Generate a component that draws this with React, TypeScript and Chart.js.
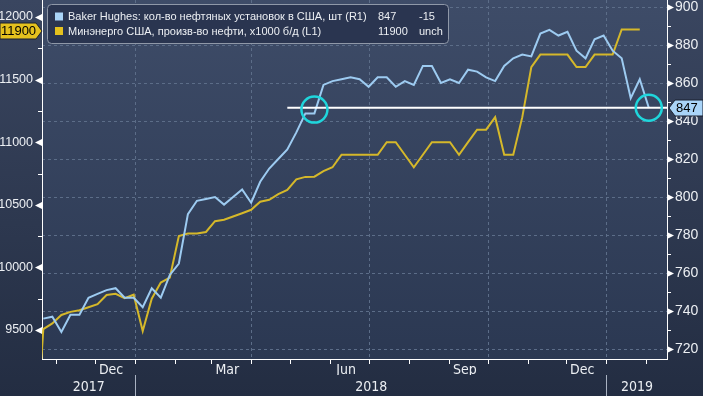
import React, { useEffect, useRef } from 'react';
import { Chart, registerables } from 'chart.js';

Chart.register(...registerables);

// ---------------- data ----------------
const weekStart = '2017-10-20'; // first weekly observation shown (Friday)
// Baker Hughes: US oil rigs, weekly (right axis)
const oilRigs = [
  736, 737, 729, 738, 738, 747, 749, 751, 752, 747,
  747, 742, 752, 747, 759, 765, 791, 798, 799, 800,
  796, 800, 804, 797, 808, 815, 820, 825, 834, 844,
  844, 859, 861, 862, 863, 862, 858, 863, 863, 858,
  861, 859, 869, 869, 860, 862, 860, 867, 866, 863,
  861, 869, 873, 875, 874, 886, 888, 885, 887, 877,
  873, 883, 885, 877, 873, 852, 862, 847,
];
// EIA (Минэнерго США): US crude output, x1000 b/d, weekly (left axis)
const oilOutputPrevWeek = 8402; // week before the first one, just outside the frame
const oilOutput = [
  9507, 9553, 9620, 9645, 9658, 9682, 9707, 9780, 9789, 9754,
  9782, 9492, 9750, 9879, 9919, 10251, 10271, 10271, 10283, 10369,
  10381, 10407, 10433, 10460, 10525, 10540, 10586, 10619, 10703, 10723,
  10725, 10769, 10800, 10900, 10900, 10900, 10900, 10900, 11000, 11000,
  10900, 10800, 10900, 11000, 11000, 11000, 10900, 11000, 11100, 11100,
  11200, 10900, 10900, 11200, 11600, 11700, 11700, 11700, 11700, 11600,
  11600, 11700, 11700, 11700, 11900, 11900, 11900,
];
const rigTickLabels = [720, 740, 760, 780, 800, 820, 840, 860, 880, 900];
const rigMinorTicks = [730, 750, 770, 790, 810, 830, 850, 870, 890];
const oilTickLabels = [9500, 10000, 10500, 11000, 11500, 12000];
const oilMinorTicks = [9750, 10250, 10750, 11250, 11750];
const monthLabelMonths = ['2017-12', '2018-03', '2018-06', '2018-09', '2018-12'];
const monthLabels = ['Dec', 'Mar', 'Jun', 'Sep', 'Dec'];
const yearStarts = ['2018-01-01', '2019-01-01'];
const yearLabels = ['2017', '2018', '2019'];
const refLineFromWeek = 27; // horizontal marker at the latest rig count
const highlightWeeks = [30, 67];
const highlightLevels = [846, 847];
const rigSeriesName = 'Baker Hughes: кол-во нефтяных установок в США, шт (R1)';
const oilSeriesName = 'Минэнерго США, произв-во нефти, x1000 б/д (L1)';

// ---------------- layout / style ----------------
const W = 703;
const H = 396;
const ORIGIN = Date.parse('2017-10-20');
const DAY = 86400000;
const dayOf = (s: string) => (Date.parse(s) - ORIGIN) / DAY;
const PLOT_SHIFT = 1.5;
const weekX = (i: number) => dayOf(weekStart) + 7 * i + PLOT_SHIFT;
const X_MIN = 0.49;
const X_MAX = 484.6;
const RIG_MIN = 714.74;
const RIG_MAX = 903.69;
const OIL_MIN = 9268.4;
const OIL_MAX = 12135.8;

const FONT = "'Liberation Sans', Arial, sans-serif";
const NARROW = "'Liberation Sans Narrow', 'Arial Narrow', 'DejaVu Sans Condensed', sans-serif";
const COL = {
  rig: '#9dcbf1',
  oil: '#d5b82a',
  rigTag: '#a9d4f8',
  oilTag: '#e4c11e',
  grid: '#5c6d88',
  text: '#eceff3',
  circle: '#1fd6dc',
};

type XT = { value: number; label: string; kind: string };

function buildMonthTicks(): XT[] {
  const out: XT[] = [];
  let y = 2017;
  let m = 10;
  for (;;) {
    const d = (Date.UTC(y, m, 1) - ORIGIN) / DAY;
    if (d > X_MAX) break;
    if (d >= X_MIN) out.push({ value: d, label: '', kind: m % 3 === 0 ? 'q' : 'm' });
    m++;
    if (m === 12) {
      m = 0;
      y++;
    }
  }
  monthLabelMonths.forEach((ym, i) => out.push({ value: dayOf(ym + '-13'), label: monthLabels[i], kind: 'l' }));
  return out.sort((a, b) => a.value - b.value);
}

function buildYearTicks(): XT[] {
  const seps = yearStarts.map(dayOf);
  const bounds = [X_MIN, ...seps, X_MAX];
  const out: XT[] = seps.map((v) => ({ value: v, label: '', kind: 's' }));
  yearLabels.forEach((lab, i) => out.push({ value: (bounds[i] + bounds[i + 1]) / 2, label: lab, kind: 'l' }));
  return out.sort((a, b) => a.value - b.value);
}

export default function App() {
  const ref = useRef<HTMLCanvasElement>(null);

  useEffect(() => {
    document.body.style.margin = '0';
    const canvas = ref.current;
    if (!canvas) return;

    const monthTicks = buildMonthTicks();
    const yearTicks = buildYearTicks();

    const rigData = oilRigs.map((v, i) => ({ x: weekX(i), y: v }));
    const oilData = [{ x: weekX(-1), y: oilOutputPrevWeek }, ...oilOutput.map((v, i) => ({ x: weekX(i), y: v }))];
    const lastRig = oilRigs[oilRigs.length - 1];
    const prevRig = oilRigs[oilRigs.length - 2];
    const lastOil = oilOutput[oilOutput.length - 1];
    const prevOil = oilOutput[oilOutput.length - 2];
    const refLine = [
      { x: weekX(refLineFromWeek), y: lastRig },
      { x: X_MAX, y: lastRig },
    ];
    const circles = highlightWeeks.map((w, i) => ({ x: weekX(w), y: highlightLevels[i] }));

    const fmtChange = (d: number) => (d === 0 ? 'unch' : d > 0 ? '+' + d : String(d));

    const decor = {
      id: 'decor',
      beforeDraw(chart: any) {
        const { ctx, chartArea: a } = chart;
        ctx.save();
        let g = ctx.createLinearGradient(0, 0, 0, H);
        g.addColorStop(0, '#3a4660');
        g.addColorStop(1, '#232d42');
        ctx.fillStyle = g;
        ctx.fillRect(0, 0, W, H);
        g = ctx.createLinearGradient(0, a.top, 0, a.bottom);
        g.addColorStop(0, '#3e4c68');
        g.addColorStop(1, '#2b3852');
        ctx.fillStyle = g;
        ctx.fillRect(a.left, a.top, a.right - a.left, a.bottom - a.top);
        ctx.restore();
      },
      afterDraw(chart: any) {
        const { ctx, chartArea: a } = chart;
        const yL = chart.scales.yL;
        const yR = chart.scales.yR;
        ctx.save();
        ctx.fillStyle = '#ffffff';
        ctx.strokeStyle = '#ffffff';
        ctx.lineWidth = 1;
        // axis markers
        yL.ticks.forEach((t: any) => {
          const y = Math.round(yL.getPixelForValue(t.value)) + 0.5;
          if (oilTickLabels.includes(t.value)) {
            ctx.beginPath();
            ctx.moveTo(a.left, y - 3.5);
            ctx.lineTo(a.left, y + 3.5);
            ctx.lineTo(a.left - 7, y);
            ctx.closePath();
            ctx.fill();
          } else {
            ctx.beginPath();
            ctx.moveTo(a.left - 4, y);
            ctx.lineTo(a.left, y);
            ctx.stroke();
          }
        });
        yR.ticks.forEach((t: any) => {
          const y = Math.round(yR.getPixelForValue(t.value)) + 0.5;
          if (rigTickLabels.includes(t.value)) {
            ctx.beginPath();
            ctx.moveTo(a.right, y - 3.5);
            ctx.lineTo(a.right, y + 3.5);
            ctx.lineTo(a.right + 7, y);
            ctx.closePath();
            ctx.fill();
          } else {
            ctx.beginPath();
            ctx.moveTo(a.right, y);
            ctx.lineTo(a.right + 4, y);
            ctx.stroke();
          }
        });

        // last value tags
        ctx.font = `13px ${FONT}`;
        ctx.textBaseline = 'middle';
        const yo = Math.round(yL.getPixelForValue(lastOil)) + 1;
        ctx.beginPath();
        ctx.moveTo(0, yo - 8);
        ctx.lineTo(36, yo - 8);
        ctx.lineTo(42, yo);
        ctx.lineTo(36, yo + 8);
        ctx.lineTo(0, yo + 8);
        ctx.closePath();
        ctx.fillStyle = COL.oilTag;
        ctx.fill();
        ctx.strokeStyle = '#1b2130';
        ctx.stroke();
        ctx.fillStyle = '#000000';
        ctx.textAlign = 'center';
        ctx.fillText(String(lastOil), 18.5, yo + 0.5);

        const yr = Math.round(yR.getPixelForValue(lastRig));
        ctx.beginPath();
        ctx.moveTo(a.right + 2, yr);
        ctx.lineTo(a.right + 8, yr - 8);
        ctx.lineTo(W, yr - 8);
        ctx.lineTo(W, yr + 8);
        ctx.lineTo(a.right + 8, yr + 8);
        ctx.closePath();
        ctx.fillStyle = COL.rigTag;
        ctx.fill();
        ctx.strokeStyle = '#1b2130';
        ctx.stroke();
        ctx.fillStyle = '#000000';
        ctx.textAlign = 'left';
        ctx.fillText(String(lastRig), a.right + 9, yr + 0.5);

        // legend box
        const bx = 47.5, by = 4.5, bw = 401, bh = 39;
        ctx.beginPath();
        ctx.roundRect(bx, by, bw, bh, 4);
        ctx.fillStyle = '#2a3550';
        ctx.fill();
        ctx.strokeStyle = '#8f98a8';
        ctx.lineWidth = 1;
        ctx.stroke();
        const rows = [
          { y: 16.5, color: COL.rigTag, name: rigSeriesName, val: String(lastRig), chg: fmtChange(lastRig - prevRig) },
          { y: 31, color: COL.oilTag, name: oilSeriesName, val: String(lastOil), chg: fmtChange(lastOil - prevOil) },
        ];
        ctx.font = `11px ${FONT}`;
        ctx.textAlign = 'left';
        rows.forEach((r) => {
          ctx.fillStyle = r.color;
          ctx.fillRect(55, r.y - 4, 8, 8);
          ctx.fillStyle = COL.text;
          ctx.fillText(r.name, 68, r.y + 0.5);
          ctx.fillText(r.val, 378, r.y + 0.5);
          ctx.fillText(r.chg, 419, r.y + 0.5);
        });
        ctx.restore();
      },
    };

    const chart = new Chart(canvas, {
      type: 'line',
      data: {
        datasets: [
          {
            data: circles,
            yAxisID: 'yR',
            showLine: false,
            pointRadius: 13,
            pointBorderWidth: 2.5,
            pointBorderColor: COL.circle,
            pointBackgroundColor: 'rgba(0,0,0,0)',
          },
          {
            data: refLine,
            yAxisID: 'yR',
            borderColor: '#ffffff',
            borderWidth: 2,
            pointRadius: 0,
          },
          {
            data: rigData,
            yAxisID: 'yR',
            borderColor: COL.rig,
            borderWidth: 2,
            pointRadius: 0,
            tension: 0,
          },
          {
            data: oilData,
            yAxisID: 'yL',
            borderColor: COL.oil,
            borderWidth: 2,
            pointRadius: 0,
            tension: 0,
          },
        ],
      } as any,
      options: {
        responsive: false,
        animation: false,
        devicePixelRatio: 1,
        events: [],
        layout: { padding: 0, autoPadding: false },
        plugins: { legend: { display: false }, tooltip: { enabled: false } },
        scales: {
          x: {
            type: 'linear',
            position: 'bottom',
            weight: 0,
            min: X_MIN,
            max: X_MAX,
            bounds: 'data',
            afterBuildTicks: (s: any) => {
              s.ticks = monthTicks.map((t) => ({ value: t.value }));
            },
            afterFit: (s: any) => {
              s.height = 16;
              s.paddingLeft = 0;
              s.paddingRight = 0;
            },
            ticks: {
              autoSkip: false,
              maxRotation: 0,
              minRotation: 0,
              padding: -2.5,
              color: COL.text,
              font: { family: NARROW, size: 14 },
              callback: (_v: any, i: number) => monthTicks[i]?.label ?? '',
            },
            grid: {
              drawOnChartArea: true,
              drawTicks: true,
              tickLength: 5,
              lineWidth: 1,
              color: (c: any) => (monthTicks[c.index]?.kind === 'q' ? COL.grid : 'rgba(0,0,0,0)'),
              tickColor: (c: any) => (monthTicks[c.index] && monthTicks[c.index].kind !== 'l' ? '#ffffff' : 'rgba(0,0,0,0)'),
              tickBorderDash: [],
            },
            border: { display: true, color: '#ffffff', width: 1, dash: [3, 3] },
          },
          x2: {
            type: 'linear',
            position: 'bottom',
            weight: 1,
            min: X_MIN,
            max: X_MAX,
            bounds: 'data',
            afterBuildTicks: (s: any) => {
              s.ticks = yearTicks.map((t) => ({ value: t.value }));
            },
            afterFit: (s: any) => {
              s.height = 21;
              s.paddingLeft = 0;
              s.paddingRight = 0;
            },
            ticks: {
              autoSkip: false,
              maxRotation: 0,
              minRotation: 0,
              padding: -17.5,
              color: COL.text,
              font: { family: NARROW, size: 14 },
              callback: (_v: any, i: number) => yearTicks[i]?.label ?? '',
            },
            grid: {
              drawOnChartArea: false,
              drawTicks: true,
              tickLength: 21,
              lineWidth: 1,
              color: 'rgba(0,0,0,0)',
              tickColor: (c: any) => (yearTicks[c.index]?.kind === 's' ? '#a9b2c2' : 'rgba(0,0,0,0)'),
            },
            border: { display: false },
          },
          yL: {
            type: 'linear',
            position: 'left',
            min: OIL_MIN,
            max: OIL_MAX,
            bounds: 'data',
            afterBuildTicks: (s: any) => {
              s.ticks = [...oilTickLabels, ...oilMinorTicks].sort((a, b) => a - b).map((v) => ({ value: v }));
            },
            afterFit: (s: any) => {
              s.width = 42;
              s.paddingTop = 0;
              s.paddingBottom = 0;
            },
            ticks: {
              autoSkip: false,
              padding: 9,
              color: COL.text,
              font: { family: FONT, size: 12.5 },
              callback: (v: any) => (oilTickLabels.includes(v) ? String(v) : ''),
            },
            grid: { display: false, drawTicks: false },
            border: { display: true, color: '#ffffff', width: 1 },
          },
          yR: {
            type: 'linear',
            position: 'right',
            min: RIG_MIN,
            max: RIG_MAX,
            bounds: 'data',
            afterBuildTicks: (s: any) => {
              s.ticks = [...rigTickLabels, ...rigMinorTicks].sort((a, b) => a - b).map((v) => ({ value: v }));
            },
            afterFit: (s: any) => {
              s.width = 36;
              s.paddingTop = 0;
              s.paddingBottom = 0;
            },
            ticks: {
              autoSkip: false,
              padding: 8,
              color: COL.text,
              font: { family: FONT, size: 14 },
              callback: (v: any) => (rigTickLabels.includes(v) ? String(v) : ''),
            },
            grid: {
              drawOnChartArea: true,
              drawTicks: false,
              lineWidth: 1,
              color: (c: any) => (c.tick && rigTickLabels.includes(c.tick.value) ? COL.grid : 'rgba(0,0,0,0)'),
            },
            border: { display: true, color: '#ffffff', width: 1, dash: [3, 3] },
          },
        },
      } as any,
      plugins: [decor],
    });

    return () => chart.destroy();
  }, []);

  return (
    <div style={{ position: 'fixed', left: 0, top: 0, width: W, height: H, overflow: 'hidden' }}>
      <canvas ref={ref} width={W} height={H} style={{ display: 'block', width: W, height: H }} />
    </div>
  );
}
